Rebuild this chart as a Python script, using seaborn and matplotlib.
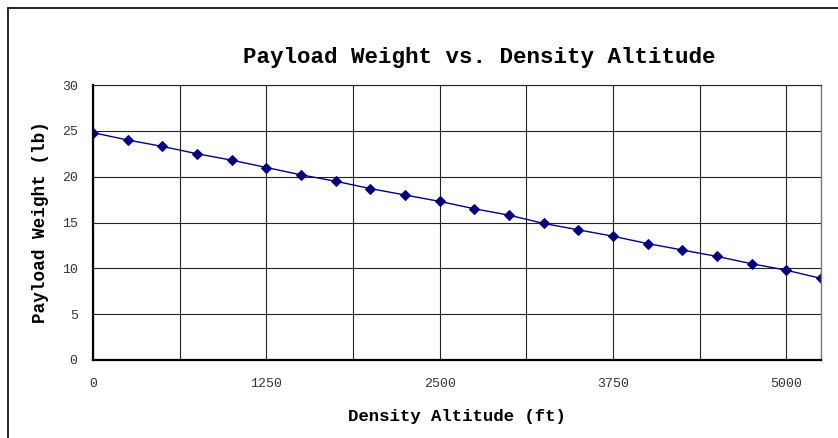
import numpy as np
import pandas as pd
import matplotlib
matplotlib.use('Agg')
import matplotlib.pyplot as plt
import seaborn as sns
from matplotlib.ticker import MultipleLocator
from matplotlib.lines import Line2D

# Data
altitude_ft = [0, 250, 500, 750, 1000, 1250, 1500, 1750, 2000, 2250, 2500,
               2750, 3000, 3250, 3500, 3750, 4000, 4250, 4500, 4750, 5000, 5250]
payload_lb = [24.8, 24.0, 23.3, 22.5, 21.8, 21.0, 20.2, 19.5, 18.7, 18.0, 17.3,
              16.5, 15.8, 14.9, 14.2, 13.5, 12.7, 12.0, 11.3, 10.5, 9.8, 8.9]
x_ticks = [0, 1250, 2500, 3750, 5000]

df = pd.DataFrame({'altitude': altitude_ft, 'payload': payload_lb})

sns.set_style('white')
plt.rcParams['font.family'] = ['Liberation Mono', 'DejaVu Sans Mono']
plt.rcParams['text.color'] = 'black'
plt.rcParams['axes.labelcolor'] = 'black'

fig = plt.figure(figsize=(8.38, 4.38), dpi=100)
ax = fig.add_axes([93 / 838, 1 - 360 / 438, (821 - 93) / 838, (360 - 85) / 438])

sns.lineplot(data=df, x='altitude', y='payload', ax=ax, color='#000080',
             linewidth=1.0, marker='D', markersize=4.8, markeredgecolor='#000080')

ax.set_xlim(0, 5250)
ax.set_ylim(0, 30)
ax.set_xticks(x_ticks)
ax.xaxis.set_minor_locator(MultipleLocator(625))
ax.yaxis.set_major_locator(MultipleLocator(5))

ax.grid(True, which='major', color='#222222', linewidth=0.8)
ax.grid(True, which='minor', axis='x', color='#222222', linewidth=0.8)
ax.set_axisbelow(True)

for side in ['left', 'bottom']:
    ax.spines[side].set_linewidth(1.6)
    ax.spines[side].set_color('black')
ax.spines['top'].set_linewidth(0.8)
ax.spines['top'].set_color('#222222')
ax.spines['right'].set_linewidth(1.0)
ax.spines['right'].set_color('#777777')

ax.tick_params(axis='both', which='major', direction='out', length=5, width=1,
               color='#333333', labelsize=9.5, labelcolor='#333333', pad=6)
ax.tick_params(axis='x', which='minor', length=0)
ax.tick_params(axis='x', which='major', pad=8)

ax.set_xlabel('Density Altitude (ft)', fontsize=12.5, fontweight='bold',
              color='black', labelpad=14)
ax.set_ylabel('Payload Weight (lb)', fontsize=12.8, fontweight='bold',
              color='black', labelpad=9)

fig.text(479.5 / 838, 1 - 58 / 438, 'Payload Weight vs. Density Altitude',
         ha='center', va='center', fontsize=16.2, fontweight='bold', color='black')

# chart area border (Excel style)
fig.add_artist(Line2D([7.5 / 838, 7.5 / 838], [0, 1 - 8 / 438], color='black',
                      linewidth=1.2, transform=fig.transFigure))
fig.add_artist(Line2D([7.5 / 838, 1], [1 - 8 / 438, 1 - 8 / 438], color='black',
                      linewidth=1.2, transform=fig.transFigure))

fig.savefig('out.png', dpi=100)
